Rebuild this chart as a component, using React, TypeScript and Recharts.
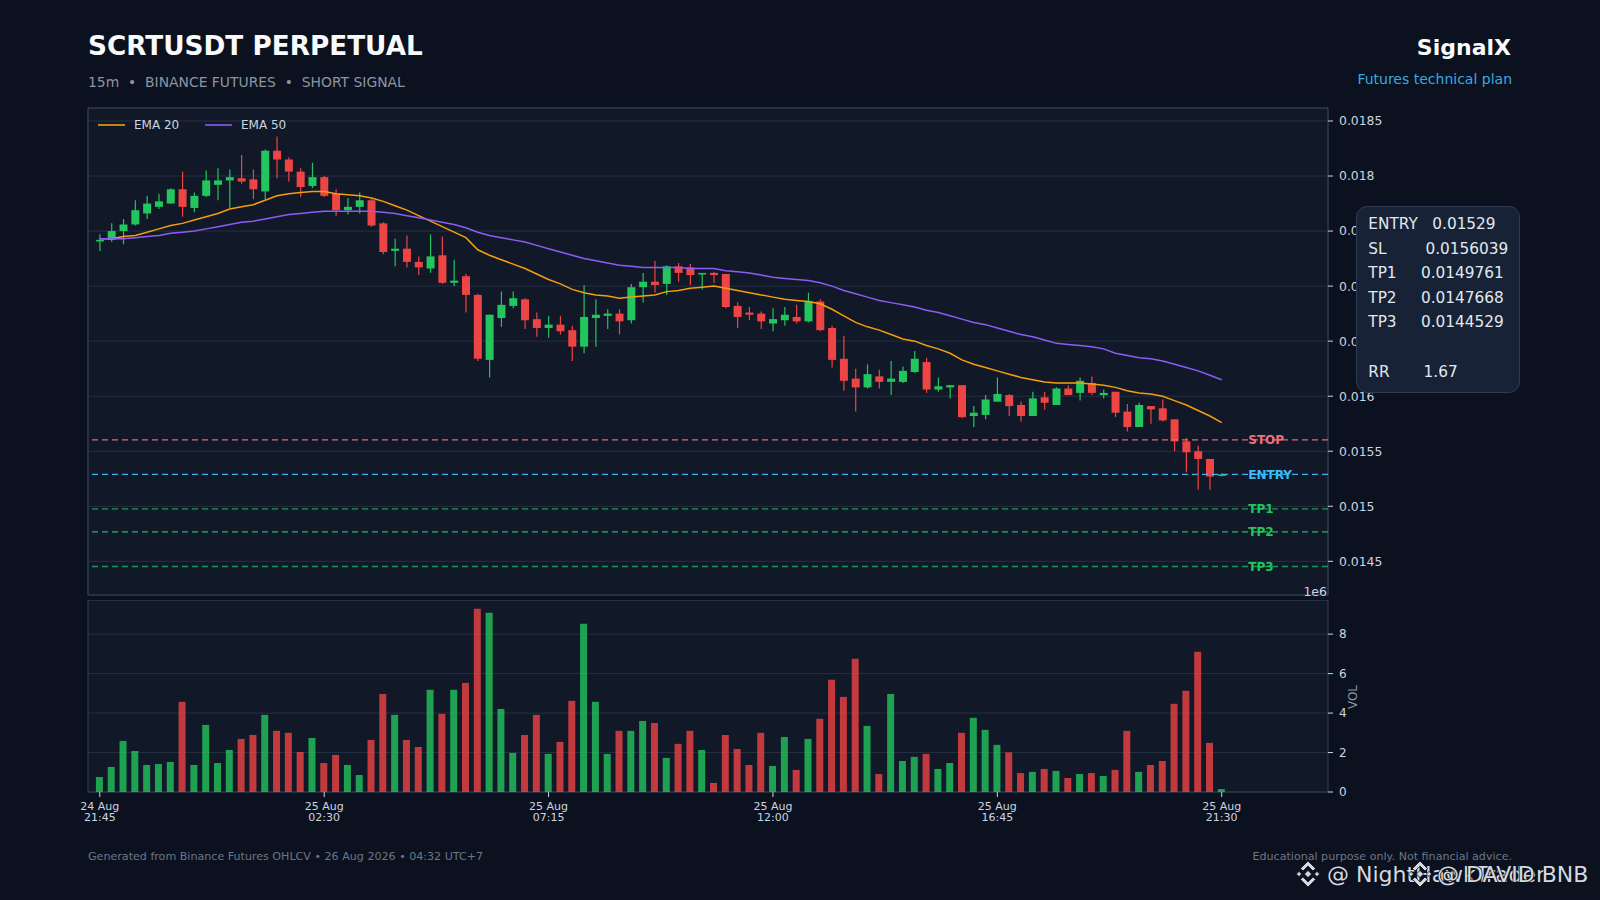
import React from 'react';
import {
  ComposedChart,
  Bar,
  Line,
  XAxis,
  YAxis,
  CartesianGrid,
  ReferenceLine,
  ReferenceArea,
  Legend,
  Cell,
} from 'recharts';

// 15m candles, 24 Aug 21:45 -> 25 Aug 21:30
const opens = [
  0.01741, 0.01742, 0.0175, 0.01756, 0.01766, 0.01772, 0.01775, 0.01788, 0.01771, 0.01782,
  0.01792, 0.01796, 0.01798, 0.01797, 0.01786, 0.01823, 0.01815, 0.01804, 0.01791, 0.01799,
  0.01784, 0.01769, 0.01772, 0.01778, 0.01757, 0.01732, 0.01734, 0.01722, 0.01716, 0.01728,
  0.01703, 0.01709, 0.01692, 0.01633, 0.01671, 0.01682, 0.01688, 0.0167, 0.01662, 0.01665,
  0.0166, 0.01645, 0.01671, 0.01673, 0.01675, 0.01669, 0.01699, 0.01704, 0.01702, 0.01718,
  0.01717, 0.01711, 0.01712, 0.01711, 0.01682, 0.01676, 0.01675, 0.01666, 0.01669, 0.01672,
  0.01668, 0.01686, 0.01662, 0.01634, 0.01616, 0.01608, 0.01618, 0.01613, 0.01613, 0.01622,
  0.01631, 0.01606, 0.01608, 0.0161, 0.01582, 0.01583, 0.01595, 0.01601, 0.01592, 0.01582,
  0.01599, 0.01592, 0.01607, 0.01603, 0.01612, 0.01601, 0.01604, 0.01586, 0.01572, 0.01591,
  0.01589, 0.01579, 0.01559, 0.0155, 0.01543, 0.01528,
];
const highs = [
  0.01747, 0.01757, 0.01761, 0.01778, 0.01782, 0.01784, 0.01789, 0.01804, 0.01785, 0.01805,
  0.01807, 0.01806, 0.01819, 0.01806, 0.01824, 0.01836, 0.01817, 0.01807, 0.01812, 0.018,
  0.01788, 0.0178, 0.01785, 0.01779, 0.01758, 0.01743, 0.01746, 0.01727, 0.01747, 0.01745,
  0.01724, 0.01711, 0.01693, 0.01674, 0.01695, 0.01695, 0.01689, 0.01676, 0.01673, 0.01673,
  0.01664, 0.01701, 0.01688, 0.01679, 0.01679, 0.01702, 0.01712, 0.01723, 0.01719, 0.01721,
  0.0172, 0.01712, 0.01713, 0.01711, 0.01685, 0.01681, 0.01677, 0.0168, 0.01681, 0.01683,
  0.01694, 0.01688, 0.01664, 0.01655, 0.01625, 0.01629, 0.01624, 0.01632, 0.01627, 0.01641,
  0.01635, 0.01617, 0.0161, 0.0161, 0.01591, 0.01601, 0.01617, 0.01602, 0.01595, 0.01604,
  0.01604, 0.01608, 0.0161, 0.01617, 0.01618, 0.01606, 0.01604, 0.01593, 0.01594, 0.01591,
  0.01597, 0.01579, 0.01562, 0.01555, 0.01543, 0.0153,
];
const lows = [
  0.01732, 0.0174, 0.01738, 0.01755, 0.01761, 0.0177, 0.01775, 0.01763, 0.01767, 0.01781,
  0.01778, 0.01771, 0.01793, 0.01779, 0.01779, 0.01798, 0.01795, 0.01781, 0.01789, 0.01781,
  0.01764, 0.01765, 0.01766, 0.01754, 0.01729, 0.01718, 0.01717, 0.0171, 0.01712, 0.01702,
  0.017, 0.01676, 0.01632, 0.01617, 0.01663, 0.0168, 0.01661, 0.01654, 0.01653, 0.01656,
  0.01632, 0.01639, 0.01645, 0.01661, 0.01656, 0.01666, 0.01685, 0.01694, 0.01692, 0.01704,
  0.01701, 0.01697, 0.01703, 0.0168, 0.01662, 0.01669, 0.01661, 0.01659, 0.01664, 0.01666,
  0.01667, 0.01659, 0.01626, 0.01605, 0.01586, 0.01607, 0.01607, 0.01601, 0.01612, 0.01621,
  0.01603, 0.01604, 0.01598, 0.0158, 0.01572, 0.01579, 0.01595, 0.01582, 0.01577, 0.01582,
  0.01588, 0.01592, 0.01601, 0.01596, 0.01601, 0.01598, 0.01581, 0.01568, 0.01572, 0.01575,
  0.01577, 0.0155, 0.01531, 0.01515, 0.01515, 0.01527,
];
const closes = [
  0.01742, 0.0175, 0.01756, 0.01769, 0.01775, 0.01777, 0.01788, 0.01772, 0.01782, 0.01796,
  0.01796, 0.01799, 0.01795, 0.01788, 0.01823, 0.01815, 0.01804, 0.0179, 0.01799, 0.01782,
  0.01769, 0.01772, 0.01778, 0.01755, 0.01731, 0.01734, 0.01722, 0.01717, 0.01727, 0.01703,
  0.01705, 0.01692, 0.01634, 0.01674, 0.01683, 0.01689, 0.01669, 0.01662, 0.01665, 0.01659,
  0.01645, 0.01672, 0.01674, 0.01675, 0.01668, 0.01699, 0.01704, 0.01701, 0.01718, 0.01712,
  0.0171, 0.01712, 0.0171, 0.01681, 0.01672, 0.01674, 0.01668, 0.0167, 0.01674, 0.01668,
  0.01686, 0.0166, 0.01633, 0.01614, 0.01608, 0.0162, 0.01613, 0.01616, 0.01623, 0.01634,
  0.01606, 0.01609, 0.0161, 0.01581, 0.01585, 0.01597, 0.01602, 0.01591, 0.01582, 0.01598,
  0.01594, 0.01607, 0.01601, 0.01614, 0.01603, 0.01603, 0.01585, 0.01572, 0.01592, 0.01588,
  0.01578, 0.01559, 0.01549, 0.01543, 0.01527, 0.01529,
];
const ema20 = [
  0.01743, 0.01743, 0.01745, 0.01746, 0.01749, 0.01752, 0.01755, 0.01757, 0.0176, 0.01763,
  0.01766, 0.0177, 0.01772, 0.01774, 0.01778, 0.01782, 0.01784, 0.01785, 0.01786, 0.01786,
  0.01784, 0.01783, 0.01782, 0.0178, 0.01777, 0.01773, 0.01769, 0.01764, 0.01759, 0.01754,
  0.01749, 0.01744, 0.01733, 0.01728, 0.01724, 0.0172, 0.01716, 0.01711, 0.01706, 0.01702,
  0.01697, 0.01694, 0.01692, 0.01691, 0.01689, 0.0169, 0.01691, 0.01692, 0.01695, 0.01696,
  0.01698, 0.01699, 0.017, 0.01698, 0.01696, 0.01694, 0.01692, 0.0169, 0.01688, 0.01687,
  0.01686, 0.01684, 0.01679, 0.01673, 0.01667, 0.01663, 0.0166, 0.01656, 0.01652, 0.0165,
  0.01646, 0.01643, 0.01639, 0.01633, 0.01629, 0.01626, 0.01623, 0.0162, 0.01617, 0.01615,
  0.01613, 0.01612, 0.01612, 0.01612, 0.01611, 0.0161, 0.01608, 0.01605, 0.01603, 0.01602,
  0.016, 0.01596, 0.01592, 0.01587, 0.01582, 0.01576,
];
const ema50 = [
  0.01743, 0.01743, 0.01743, 0.01744, 0.01745, 0.01746, 0.01748, 0.01749, 0.0175, 0.01752,
  0.01754, 0.01756, 0.01758, 0.01759, 0.01761, 0.01763, 0.01765, 0.01766, 0.01767, 0.01768,
  0.01768, 0.01768, 0.01768, 0.01768, 0.01767, 0.01766, 0.01764, 0.01762, 0.0176, 0.01758,
  0.01756, 0.01753, 0.01749, 0.01746, 0.01744, 0.01742, 0.0174, 0.01737, 0.01734, 0.01731,
  0.01728, 0.01725, 0.01723, 0.01721, 0.01719, 0.01718, 0.01717, 0.01717, 0.01717, 0.01717,
  0.01716, 0.01716, 0.01716, 0.01714, 0.01713, 0.01712, 0.0171, 0.01708, 0.01707, 0.01706,
  0.01705, 0.01703, 0.017, 0.01696, 0.01693, 0.0169, 0.01687, 0.01685, 0.01683, 0.01681,
  0.01678, 0.01676, 0.01673, 0.0167, 0.01667, 0.01665, 0.01662, 0.01659, 0.01656, 0.01654,
  0.01651, 0.01648, 0.01647, 0.01646, 0.01645, 0.01643, 0.01639, 0.01637, 0.01635, 0.01634,
  0.01632, 0.01629, 0.01626, 0.01623, 0.01619, 0.01615,
];
// volume in millions (axis offset 1e6)
const volumes = [
  0.76, 1.27, 2.59, 2.08, 1.37, 1.42, 1.52, 4.57, 1.37, 3.4,
  1.47, 2.13, 2.69, 2.89, 3.91, 3.1, 3.0, 2.03, 2.74, 1.47,
  1.88, 1.37, 0.86, 2.64, 4.97, 3.91, 2.64, 2.28, 5.18, 3.96,
  5.18, 5.53, 9.29, 9.09, 4.21, 1.98, 2.89, 3.91, 1.93, 2.54,
  4.62, 8.53, 4.57, 1.93, 3.1, 3.1, 3.6, 3.5, 1.73, 2.44,
  3.1, 2.13, 0.46, 2.89, 2.18, 1.37, 3.0, 1.32, 2.79, 1.12,
  2.69, 3.71, 5.69, 4.82, 6.75, 3.35, 0.91, 4.97, 1.57, 1.78,
  1.93, 1.17, 1.47, 3.0, 3.76, 3.15, 2.39, 2.01, 0.96, 1.02,
  1.17, 1.07, 0.71, 0.91, 0.96, 0.81, 1.12, 3.1, 1.02, 1.37,
  1.57, 4.47, 5.13, 7.11, 2.49, 0.15,
];

const tickIndex = [0, 19, 38, 57, 76, 95];
const tickDates = ['24 Aug', '25 Aug', '25 Aug', '25 Aug', '25 Aug', '25 Aug'];
const tickTimes = ['21:45', '02:30', '07:15', '12:00', '16:45', '21:30'];
const priceTicks = [0.0145, 0.015, 0.0155, 0.016, 0.0165, 0.017, 0.0175, 0.018, 0.0185];
const volumeTicks = [0, 2, 4, 6, 8];

const levelNames = ['STOP', 'ENTRY', 'TP1', 'TP2', 'TP3'];
const levelValues = [0.0156039, 0.01529, 0.0149761, 0.0147668, 0.0144529];

const planLabels = ['ENTRY', 'SL', 'TP1', 'TP2', 'TP3'];
const planValues = [0.01529, 0.0156039, 0.0149761, 0.0147668, 0.0144529];
const planPad = [3, 8, 5, 5, 5];
const riskReward = 1.67;

const X_MIN = -1;
const X_MAX = 104;
const PRICE_MIN = 0.014194;
const PRICE_MAX = 0.018618;
const VOL_MAX = 9.73;
const TAG_AT = 97.25;

const BG = '#0b111e';
const PANEL = '#111827';
const GRID = '#263043';
const FRAME = '#334155';
const TICK = '#cbd5e1';
const MUTED = '#8b95a5';
const GREEN = '#22c55e';
const RED = '#ef4444';
const EMA20_COLOR = '#f59e0b';
const EMA50_COLOR = '#8b5cf6';
const levelColors = ['#ee6f7c', '#38bdf8', GREEN, GREEN, GREEN];
const levelOpacity = [0.95, 0.95, 0.75, 0.95, 0.75];

const rows = closes.map((close, i) => ({
  i,
  open: opens[i],
  high: highs[i],
  low: lows[i],
  close,
  range: [lows[i], highs[i]],
  ema20: ema20[i],
  ema50: ema50[i],
  vol: volumes[i],
  up: close >= opens[i],
}));

function Candle(props: any) {
  const { x, y, width, height, payload } = props;
  if (!payload || !isFinite(y) || !isFinite(height)) return null;
  const top = Math.min(y, y + height);
  const span = Math.abs(height);
  const { open, close, high, low } = payload;
  const k = high > low ? span / (high - low) : 0;
  const toY = (v: number) => top + (high - v) * k;
  const color = close >= open ? GREEN : RED;
  const cx = x + width / 2;
  const y1 = toY(Math.max(open, close));
  const y2 = toY(Math.min(open, close));
  return (
    <g>
      <line x1={cx} x2={cx} y1={top} y2={top + span} stroke={color} strokeWidth={1.2} />
      <rect x={x} y={y1} width={width} height={Math.max(y2 - y1, 1.6)} fill={color} />
    </g>
  );
}

function LevelTag(props: any) {
  const { viewBox, text, color } = props;
  if (!viewBox) return null;
  const lx = viewBox.x + (viewBox.width * (TAG_AT - X_MIN)) / (X_MAX - X_MIN);
  return (
    <text x={lx} y={viewBox.y} dy="0.36em" fill={color} fontSize={12} fontWeight={700}>
      {text}
    </text>
  );
}

function TimeTick(props: any) {
  const { x, y, payload } = props;
  const k = tickIndex.indexOf(payload.value);
  if (k < 0) return null;
  return (
    <text x={x} y={y} textAnchor="middle" fill={TICK} fontSize={11}>
      <tspan x={x} dy={11}>{tickDates[k]}</tspan>
      <tspan x={x} dy={11}>{tickTimes[k]}</tspan>
    </text>
  );
}

function EmaLegend() {
  return (
    <svg width={200} height={16} style={{ display: 'block' }}>
      <line x1={0} x2={27} y1={8} y2={8} stroke={EMA20_COLOR} strokeWidth={1.6} />
      <text x={36} y={12.3} fill={TICK} fontSize={12}>EMA 20</text>
      <line x1={107} x2={134} y1={8} y2={8} stroke={EMA50_COLOR} strokeWidth={1.6} />
      <text x={143} y={12.3} fill={TICK} fontSize={12}>EMA 50</text>
    </svg>
  );
}

function BinanceMark({ cx, cy }: { cx: number; cy: number }) {
  const d = (x: number, y: number, r: number) =>
    `${cx + x},${cy + y - r} ${cx + x + r},${cy + y} ${cx + x},${cy + y + r} ${cx + x - r},${cy + y}`;
  return (
    <g fill="#d6d9de" stroke="#0b111e" strokeWidth={0.8}>
      <polygon points={d(0, 0, 3.6)} />
      <polygon points={d(-9, 0, 2.6)} />
      <polygon points={d(9, 0, 2.6)} />
      <polygon
        points={`${cx},${cy - 13} ${cx + 7.5},${cy - 5.5} ${cx + 5},${cy - 3} ${cx},${cy - 8} ${cx - 5},${cy - 3} ${cx - 7.5},${cy - 5.5}`}
      />
      <polygon
        points={`${cx},${cy + 13} ${cx + 7.5},${cy + 5.5} ${cx + 5},${cy + 3} ${cx},${cy + 8} ${cx - 5},${cy + 3} ${cx - 7.5},${cy + 5.5}`}
      />
    </g>
  );
}

export default function App() {
  return (
    <div
      style={{
        position: 'fixed',
        left: 0,
        top: 0,
        width: 1600,
        height: 900,
        background: BG,
        fontFamily: '"DejaVu Sans", sans-serif',
        overflow: 'hidden',
      }}
    >
      <div style={{ position: 'absolute', left: 0, top: 0 }}>
        <ComposedChart
          width={1600}
          height={600}
          data={rows}
          margin={{ top: 108, right: 212, bottom: 0, left: 88 }}
        >
          <CartesianGrid stroke={GRID} fill={PANEL} fillOpacity={1} />
          <XAxis
            type="number"
            dataKey="i"
            domain={[X_MIN, X_MAX]}
            ticks={tickIndex}
            allowDataOverflow
            interval={0}
            height={5}
            tickSize={5}
            tick={false}
            axisLine={false}
            tickLine={{ stroke: TICK }}
          />
          <YAxis
            orientation="right"
            type="number"
            domain={[PRICE_MIN, PRICE_MAX]}
            allowDataOverflow
            ticks={priceTicks}
            interval={0}
            width={60}
            tickSize={5}
            tickMargin={6}
            axisLine={false}
            tickLine={{ stroke: TICK }}
            tick={{ fill: TICK, fontSize: 12.4 }}
            tickFormatter={(v: number) => String(v)}
          />
          <ReferenceArea
            x1={X_MIN}
            x2={X_MAX}
            y1={PRICE_MIN}
            y2={PRICE_MAX}
            fill="none"
            stroke={FRAME}
            strokeWidth={1}
          />
          {levelNames.map((name, k) => (
            <ReferenceLine
              key={name}
              y={levelValues[k]}
              stroke={levelColors[k]}
              strokeOpacity={levelOpacity[k]}
              strokeDasharray="6 4"
              strokeWidth={1.3}
              label={<LevelTag text={name} color={levelColors[k]} />}
            />
          ))}
          <Bar
            dataKey="range"
            barSize={8}
            isAnimationActive={false}
            shape={(p: any) => <Candle {...p} />}
          />
          <Line
            type="linear"
            dataKey="ema20"
            stroke={EMA20_COLOR}
            strokeWidth={1.5}
            dot={false}
            activeDot={false}
            isAnimationActive={false}
          />
          <Line
            type="linear"
            dataKey="ema50"
            stroke={EMA50_COLOR}
            strokeWidth={1.5}
            dot={false}
            activeDot={false}
            isAnimationActive={false}
          />
          <Legend
            layout="horizontal"
            align="center"
            verticalAlign="middle"
            wrapperStyle={{ left: 98, top: 116.5, width: 200, height: 16 }}
            content={() => <EmaLegend />}
          />
        </ComposedChart>
      </div>

      <div style={{ position: 'absolute', left: 0, top: 600 }}>
        <ComposedChart
          width={1600}
          height={240}
          data={rows}
          margin={{ top: 0, right: 212, bottom: 0, left: 88 }}
        >
          <CartesianGrid stroke={GRID} fill={PANEL} fillOpacity={1} vertical={false} />
          <XAxis
            type="number"
            dataKey="i"
            domain={[X_MIN, X_MAX]}
            ticks={tickIndex}
            allowDataOverflow
            interval={0}
            height={48}
            tickSize={5}
            tickMargin={2}
            axisLine={false}
            tickLine={{ stroke: TICK }}
            tick={<TimeTick />}
          />
          <YAxis
            orientation="right"
            type="number"
            domain={[0, VOL_MAX]}
            allowDataOverflow
            ticks={volumeTicks}
            interval={0}
            width={60}
            tickSize={5}
            tickMargin={6}
            axisLine={false}
            tickLine={{ stroke: TICK }}
            tick={{ fill: TICK, fontSize: 12 }}
          />
          <ReferenceArea
            x1={X_MIN}
            x2={X_MAX}
            y1={0}
            y2={VOL_MAX}
            fill="none"
            stroke={FRAME}
            strokeWidth={1}
          />
          <Bar dataKey="vol" barSize={7} isAnimationActive={false}>
            {rows.map((r) => (
              <Cell key={r.i} fill={r.up ? GREEN : RED} fillOpacity={0.8} />
            ))}
          </Bar>
        </ComposedChart>
      </div>

      <svg
        width={1600}
        height={900}
        style={{ position: 'absolute', left: 0, top: 0, pointerEvents: 'none' }}
      >
        <text x={88} y={54.5} fill="#f8fafc" fontSize={26.3} fontWeight={700}>
          SCRTUSDT PERPETUAL
        </text>
        <text x={88} y={86.5} fill={MUTED} fontSize={13.9} style={{ whiteSpace: 'pre' }}>
          {'15m  •  BINANCE FUTURES  •  SHORT SIGNAL'}
        </text>
        <text x={1511} y={55.3} textAnchor="end" fill="#f8fafc" fontSize={22} fontWeight={700}>
          SignalX
        </text>
        <text x={1512} y={83.5} textAnchor="end" fill="#38a9e0" fontSize={14}>
          Futures technical plan
        </text>
        <text x={1327} y={596} textAnchor="end" fill={TICK} fontSize={12.5}>
          1e6
        </text>
        <text
          x={1353}
          y={697}
          dy="0.35em"
          textAnchor="middle"
          fill={MUTED}
          fontSize={12}
          transform="rotate(-90 1353 697)"
        >
          VOL
        </text>
        <text x={88} y={860} fill="#6b7689" fontSize={11.1}>
          Generated from Binance Futures OHLCV • 26 Aug 2026 • 04:32 UTC+7
        </text>
        <text x={1512} y={860} textAnchor="end" fill="#6b7689" fontSize={11.1}>
          Educational purpose only. Not financial advice.
        </text>
        <g>
          <BinanceMark cx={1308} cy={874} />
          <text
            x={1327}
            y={881.7}
            fill="#d6d9de"
            stroke="#0b111e"
            strokeWidth={1.5}
            fontSize={22}
            style={{ paintOrder: 'stroke' }}
          >
            @ NightHawkTrader
          </text>
          <BinanceMark cx={1420} cy={874} />
          <text
            x={1437}
            y={881.7}
            fill="#d6d9de"
            stroke="#0b111e"
            strokeWidth={1.5}
            fontSize={22}
            style={{ paintOrder: 'stroke' }}
          >
            @ DAVID BNB
          </text>
        </g>
      </svg>

      <div
        style={{
          position: 'absolute',
          left: 1355.7,
          top: 206,
          width: 164.3,
          height: 187,
          boxSizing: 'border-box',
          background: '#172236',
          border: '1px solid #2e3b52',
          borderRadius: 11,
          color: '#e2e8f0',
          fontSize: 15.3,
          lineHeight: '24.6px',
          padding: '5px 0 0 11.6px',
          whiteSpace: 'pre',
        }}
      >
        {planLabels.map((label, k) => (
          <div key={label}>{label + ' '.repeat(planPad[k]) + planValues[k]}</div>
        ))}
        <div>{' '}</div>
        <div>{'RR' + ' '.repeat(7) + riskReward.toFixed(2)}</div>
      </div>
    </div>
  );
}
